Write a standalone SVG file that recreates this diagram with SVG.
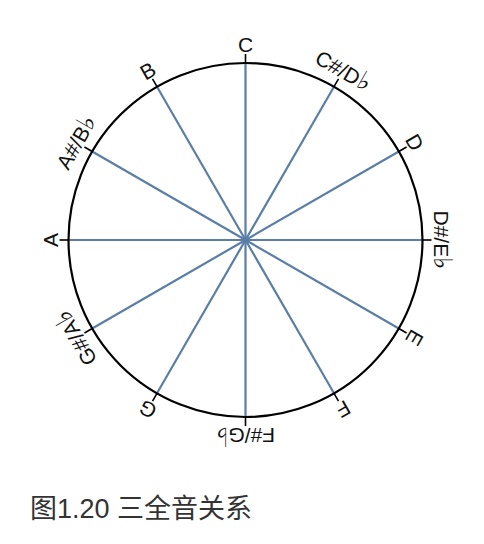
<svg xmlns="http://www.w3.org/2000/svg" width="484" height="544" viewBox="0 0 484 544">
<style>
.spoke{stroke:#5a7ea5;stroke-width:2.2;fill:none}
.tick{stroke:#000;stroke-width:1.6}
.lbl{font-family:"Liberation Sans","DejaVu Sans",sans-serif;font-size:21px;fill:#111;text-anchor:middle}
.fl{font-family:"DejaVu Sans",sans-serif;font-size:26px}
.cap{font-family:"Liberation Sans","Noto Sans CJK SC",sans-serif;font-size:27px;fill:#333}
</style>
<rect width="484" height="544" fill="#fff"/>
<g id="connectors">
<line class="spoke" x1="245.5" y1="240" x2="245.5" y2="63"/>
<line class="spoke" x1="245.5" y1="240" x2="334" y2="86.7"/>
<line class="spoke" x1="245.5" y1="240" x2="398.8" y2="151.5"/>
<line class="spoke" x1="245.5" y1="240" x2="422.5" y2="240"/>
<line class="spoke" x1="245.5" y1="240" x2="398.8" y2="328.5"/>
<line class="spoke" x1="245.5" y1="240" x2="334" y2="393.3"/>
<line class="spoke" x1="245.5" y1="240" x2="245.5" y2="417"/>
<line class="spoke" x1="245.5" y1="240" x2="157" y2="393.3"/>
<line class="spoke" x1="245.5" y1="240" x2="92.2" y2="328.5"/>
<line class="spoke" x1="245.5" y1="240" x2="68.5" y2="240"/>
<line class="spoke" x1="245.5" y1="240" x2="92.2" y2="151.5"/>
<line class="spoke" x1="245.5" y1="240" x2="157" y2="86.7"/>
</g>
<circle id="circle" cx="245.5" cy="240" r="177" fill="none" stroke="#000" stroke-width="2.2"/>
<g id="n-C" transform="rotate(0 245.5 240)"><line class="tick" x1="245.5" y1="63" x2="245.5" y2="54"/><text class="lbl" x="245.5" y="52">C</text></g>
<g id="n-Cs" transform="rotate(30 245.5 240)"><line class="tick" x1="245.5" y1="63" x2="245.5" y2="54"/><text class="lbl" x="245.5" y="52">C#/D<tspan class="fl">♭</tspan></text></g>
<g id="n-D" transform="rotate(60 245.5 240)"><line class="tick" x1="245.5" y1="63" x2="245.5" y2="54"/><text class="lbl" x="245.5" y="52">D</text></g>
<g id="n-Ds" transform="rotate(90 245.5 240)"><line class="tick" x1="245.5" y1="63" x2="245.5" y2="54"/><text class="lbl" x="245.5" y="52">D#/E<tspan class="fl">♭</tspan></text></g>
<g id="n-E" transform="rotate(120 245.5 240)"><line class="tick" x1="245.5" y1="63" x2="245.5" y2="54"/><text class="lbl" x="245.5" y="52">E</text></g>
<g id="n-F" transform="rotate(150 245.5 240)"><line class="tick" x1="245.5" y1="63" x2="245.5" y2="54"/><text class="lbl" x="245.5" y="52">F</text></g>
<g id="n-Fs" transform="rotate(180 245.5 240)"><line class="tick" x1="245.5" y1="63" x2="245.5" y2="54"/><text class="lbl" x="245.5" y="52">F#/G<tspan class="fl">♭</tspan></text></g>
<g id="n-G" transform="rotate(210 245.5 240)"><line class="tick" x1="245.5" y1="63" x2="245.5" y2="54"/><text class="lbl" x="245.5" y="52">G</text></g>
<g id="n-Gs" transform="rotate(240 245.5 240)"><line class="tick" x1="245.5" y1="63" x2="245.5" y2="54"/><text class="lbl" x="245.5" y="52">G#/A<tspan class="fl">♭</tspan></text></g>
<g id="n-A" transform="rotate(270 245.5 240)"><line class="tick" x1="245.5" y1="63" x2="245.5" y2="54"/><text class="lbl" x="245.5" y="52">A</text></g>
<g id="n-As" transform="rotate(300 245.5 240)"><line class="tick" x1="245.5" y1="63" x2="245.5" y2="54"/><text class="lbl" x="245.5" y="52">A#/B<tspan class="fl">♭</tspan></text></g>
<g id="n-B" transform="rotate(330 245.5 240)"><line class="tick" x1="245.5" y1="63" x2="245.5" y2="54"/><text class="lbl" x="245.5" y="52">B</text></g>
<text id="caption" class="cap" x="30" y="518">图1.20 三全音关系</text>
</svg>
